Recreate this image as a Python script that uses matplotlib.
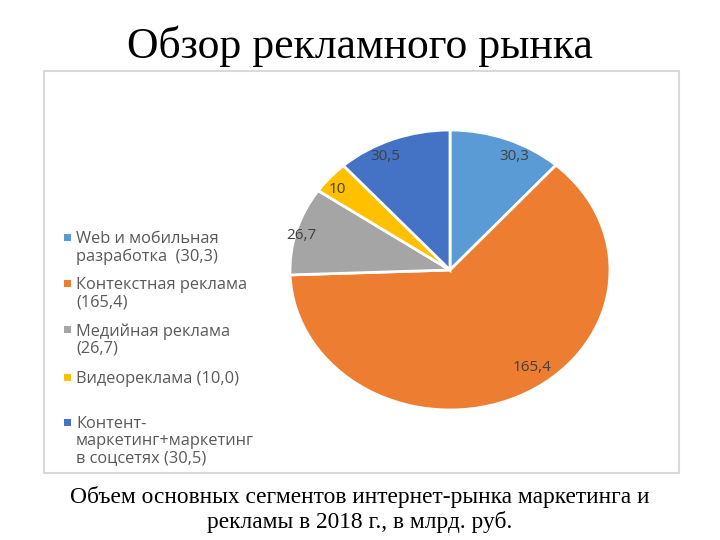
import matplotlib
matplotlib.use('Agg')
from matplotlib import pyplot as plt
from matplotlib.patches import Rectangle
import numpy as np

# data of the chart
segment_values = [30.3, 165.4, 26.7, 10.0, 30.5]
slice_labels = ['30,3', '165,4', '26,7', '10', '30,5']
legend_labels = ['Web и мобильная\nразработка  (30,3)',
                 'Контекстная реклама\n(165,4)',
                 'Медийная реклама\n(26,7)',
                 'Видеореклама (10,0)',
                 'Контент-\nмаркетинг+маркетинг\nв соцсетях (30,5)']
colors = ['#5B9BD5', '#ED7D31', '#A5A5A5', '#FFC000', '#4472C4']

title = 'Обзор рекламного рынка'
caption_lines = ['Объем основных сегментов интернет-рынка маркетинга и',
                 'рекламы в 2018 г., в млрд. руб.']

W, H = 720, 540
fig = plt.figure(figsize=(7.2, 5.4), dpi=100)
sans = ['Open Sans', 'DejaVu Sans']
serif = ['Liberation Serif', 'DejaVu Serif']

# light frame around the chart area
fig.patches.append(Rectangle((44 / W, 1 - 473 / H), 635 / W, 402 / H,
                             transform=fig.transFigure, fill=False,
                             edgecolor='#d9d9d9', linewidth=1.5))

# pie axes (slightly elliptic like in the reference)
ax = fig.add_axes([290 / W, 1 - 410 / H, 320 / W, 280 / H])
wedges, texts = ax.pie(segment_values, colors=colors, startangle=90,
                       counterclock=False, labels=slice_labels,
                       labeldistance=0.87,
                       wedgeprops=dict(edgecolor='white', linewidth=2),
                       textprops=dict(color='#404040', fontsize=11,
                                      family=sans))
ax.set_aspect('auto')
ax.set_xlim(-1, 1)
ax.set_ylim(-1, 1)

# the big slice label sits a bit off its middle angle (excel best fit)
mid = np.deg2rad((wedges[1].theta1 + wedges[1].theta2) / 2 + 4)
texts[1].set_position((0.8 * np.cos(mid), 0.8 * np.sin(mid)))

# legend drawn by hand so that the marker sits on the first line
legend_y = [237, 283, 329, 377, 422]
for label, color, y in zip(legend_labels, colors, legend_y):
    fig.patches.append(Rectangle((64 / W, 1 - (y + 3.5) / H), 7 / W, 7 / H,
                                 transform=fig.transFigure,
                                 facecolor=color, edgecolor='none'))
    fig.text(76 / W, 1 - (y - 6) / H, label, ha='left', va='top',
             color='#595959', fontsize=11.8, family=sans, linespacing=1.1)

fig.text(0.5, 1 - 58 / H, title, ha='center', va='baseline',
         fontsize=31.5, family=serif)
for line, base in zip(caption_lines, [503, 528]):
    fig.text(0.5, 1 - base / H, line, ha='center', va='baseline',
             fontsize=16.8, family=serif)

fig.savefig('out.png', dpi=100)
